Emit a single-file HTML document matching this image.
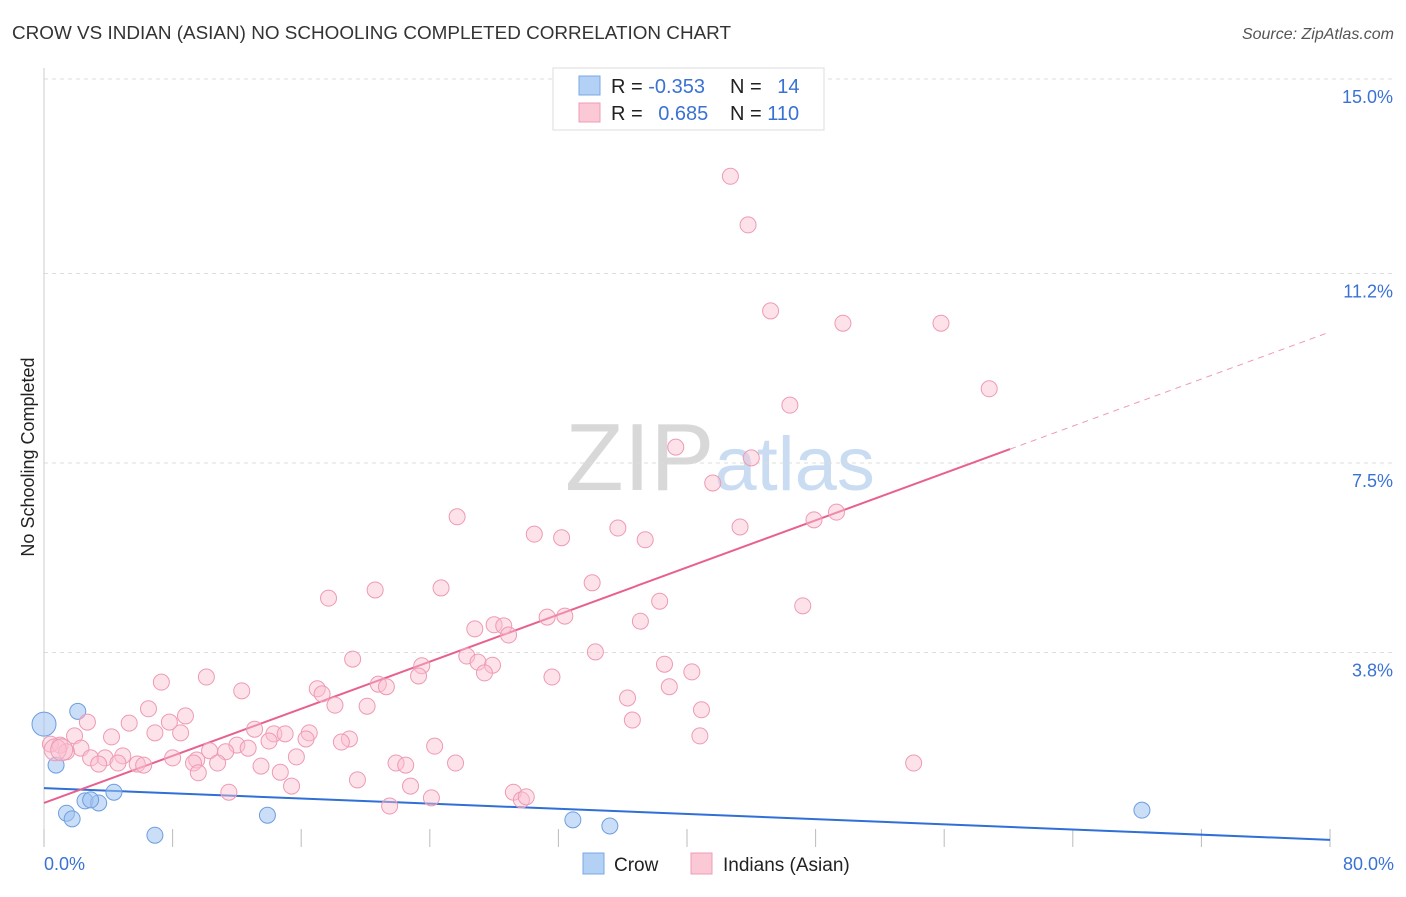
<!DOCTYPE html>
<html><head><meta charset="utf-8"><style>
body{margin:0;background:#fff;font-family:"Liberation Sans",sans-serif;}
svg text{font-family:"Liberation Sans",sans-serif;}
</style></head><body>
<svg id="chart" width="1406" height="892" xmlns="http://www.w3.org/2000/svg">
<text x="12" y="39" font-size="18" fill="#333" textLength="719" lengthAdjust="spacingAndGlyphs">CROW VS INDIAN (ASIAN) NO SCHOOLING COMPLETED CORRELATION CHART</text>
<text x="1394" y="39" font-size="16" fill="#555" font-style="italic" text-anchor="end">Source: ZipAtlas.com</text>
<text x="720" y="490" font-size="96" fill="#ddd" text-anchor="middle" font-family="Liberation Serif"><tspan fill="#d8d8d8">ZIP</tspan><tspan fill="#c9dcf2" font-family="Liberation Sans" font-size="76">atlas</tspan></text>
<g id="grid"></g>
<g id="axes"></g>
<text transform="translate(34,457) rotate(-90)" font-size="18" fill="#222" text-anchor="middle">No Schooling Completed</text>
<g id="lines"></g>
<g id="points"></g>
<g>
<rect x="553" y="68" width="271" height="62" fill="#fff" stroke="#ddd"/>
<rect x="579" y="76" width="21" height="19" fill="#b3d0f5" stroke="#7aa8e6"/>
<rect x="579" y="103" width="21" height="19" fill="#fbc8d6" stroke="#ef9cb5"/>
<text x="611" y="93" font-size="20" fill="#222">R = <tspan fill="#3a72d4">-0.353</tspan></text>
<text x="730" y="93" font-size="20" fill="#222">N = <tspan fill="#3a72d4" dx="10">14</tspan></text>
<text x="611" y="120" font-size="20" fill="#222">R = <tspan fill="#3a72d4" dx="10">0.685</tspan></text>
<text x="730" y="120" font-size="20" fill="#222">N = <tspan fill="#3a72d4">110</tspan></text>
</g>
<g>
<rect x="583" y="853" width="21" height="21" fill="#b3d0f5" stroke="#7aa8e6"/>
<text x="614" y="871" font-size="19" fill="#222">Crow</text>
<rect x="691" y="853" width="21" height="21" fill="#fbc8d6" stroke="#ef9cb5"/>
<text x="723" y="871" font-size="19" fill="#222">Indians (Asian)</text>
</g>
</svg>
<script>
const yTicks=[3.8,7.5,11.2,15.0];
const xTickLabels=["0.0%","80.0%"];
const crowX=[0,0.75,2.1,1.4,1.75,2.55,3.4,4.35,6.9,13.9,32.9,35.2,68.3,2.9];
const crowY=[2.4,1.6,2.65,0.66,0.55,0.9,0.86,1.07,0.23,0.62,0.53,0.41,0.72,0.92];
const indX=[42.7,43.8,45.2,49.7,55.8,58.8,46.4,39.3,44.0,41.6,25.7,43.3,49.3,47.9,35.7,30.5,32.2,37.4,34.1,24.7,20.6,17.7,38.3,47.2,31.3,32.4,37.1,26.8,28.0,28.6,28.9,34.3,26.3,19.2,27.0,27.9,23.5,38.6,40.3,23.3,27.4,31.6,7.3,10.1,20.8,21.3,17.0,38.9,17.3,12.3,36.3,18.1,20.1,6.5,40.9,8.8,2.7,5.3,7.8,36.6,6.9,8.5,13.1,14.3,15.0,16.5,16.3,19.0,4.2,1.9,40.8,14.0,12.0,18.5,24.3,12.7,2.3,10.3,11.3,0.4,1.0,1.4,2.9,3.8,4.9,8.0,9.5,3.4,4.6,5.8,6.2,9.3,10.8,15.7,13.5,21.9,22.5,25.6,54.1,9.6,14.7,19.5,15.4,11.5,22.8,29.2,24.1,29.7,30.0,21.5,0.7,1.1];
const indY=[13.1,12.15,10.47,10.23,10.23,8.95,8.63,7.81,7.6,7.11,6.45,6.25,6.54,6.39,6.23,6.11,6.04,6.0,5.16,5.06,5.02,4.86,4.8,4.71,4.49,4.51,4.41,4.26,4.34,4.32,4.14,3.81,3.73,3.67,3.61,3.55,3.54,3.57,3.42,3.34,3.4,3.32,3.22,3.32,3.18,3.13,3.09,3.13,2.99,3.05,2.91,2.77,2.75,2.7,2.68,2.56,2.44,2.42,2.44,2.48,2.23,2.23,2.3,2.21,2.21,2.23,2.11,2.11,2.15,2.17,2.17,2.07,1.99,2.05,1.97,1.93,1.93,1.88,1.86,2.01,1.99,1.86,1.74,1.74,1.78,1.74,1.7,1.62,1.64,1.62,1.6,1.64,1.64,1.76,1.58,1.64,1.6,1.64,1.64,1.45,1.46,1.31,1.19,1.07,1.19,1.07,0.96,0.92,0.98,0.8,1.9,1.9];
const crowTrend=[1.15,0.14];
const indTrend=[0.86,10.06];
const indSolidEnd=60.1;
const X=v=>44+v*(1286/80), Y=v=>847-v*51.2;
const NS="http://www.w3.org/2000/svg";
function mk(t,a,p){const e=document.createElementNS(NS,t);for(const k in a)e.setAttribute(k,a[k]);p.appendChild(e);return e;}
const grid=document.getElementById('grid'),axes=document.getElementById('axes'),lines=document.getElementById('lines'),pts=document.getElementById('points');
yTicks.forEach(t=>{
 const l=mk('line',{x1:44,x2:1394,y1:Y(t),y2:Y(t),stroke:'#ddd','stroke-dasharray':'4,4'},grid);
 
 
 const tx=mk('text',{x:1393,y:Y(t)+24,'font-size':18,fill:'#3a72d4','text-anchor':'end'},axes);
 tx.textContent=t.toFixed(1)+'%';
 
 
});
const yax=mk('line',{x1:44,x2:44,y1:68,y2:847,stroke:'#ccc'},axes);


for(let i=0;i<=10;i++){const tk=mk('line',{x1:X(i*8),x2:X(i*8),y1:829,y2:847,stroke:'#bbb'},axes);
 
 }
[[0,'start',44],[80,'end',1394]].forEach((d,i)=>{const tx=mk('text',{x:d[2],y:870,'font-size':18,fill:'#3a72d4','text-anchor':d[1]},axes);tx.textContent=xTickLabels[i];
 
 });
crowX.forEach((x,i)=>{const c=mk('circle',{cx:X(x),cy:Y(crowY[i]),r:i==0?12:8,fill:'rgba(160,195,240,0.55)',stroke:'#6d9ee0','stroke-width':1},pts);
 
 });
indX.forEach((x,i)=>{const big=i>=indX.length-2;const c=mk('circle',{cx:X(x),cy:Y(indY[i]),r:big?11:8,fill:'rgba(250,190,208,0.45)',stroke:'#ee9ab3','stroke-width':1},pts);
 
 });
const cl=mk('line',{x1:X(0),y1:Y(crowTrend[0]),x2:X(80),y2:Y(crowTrend[1]),stroke:'#2f6fd6','stroke-width':2},lines);


const ie=indTrend[0]+(indTrend[1]-indTrend[0])*indSolidEnd/80;
const il=mk('line',{x1:X(0),y1:Y(indTrend[0]),x2:X(indSolidEnd),y2:Y(ie),stroke:'#e8608f','stroke-width':2},lines);


const id=mk('line',{x1:X(indSolidEnd),y1:Y(ie),x2:X(80),y2:Y(indTrend[1]),stroke:'#ee9ab3','stroke-width':1,'stroke-dasharray':'6,5'},lines);


</script>
</body></html>
